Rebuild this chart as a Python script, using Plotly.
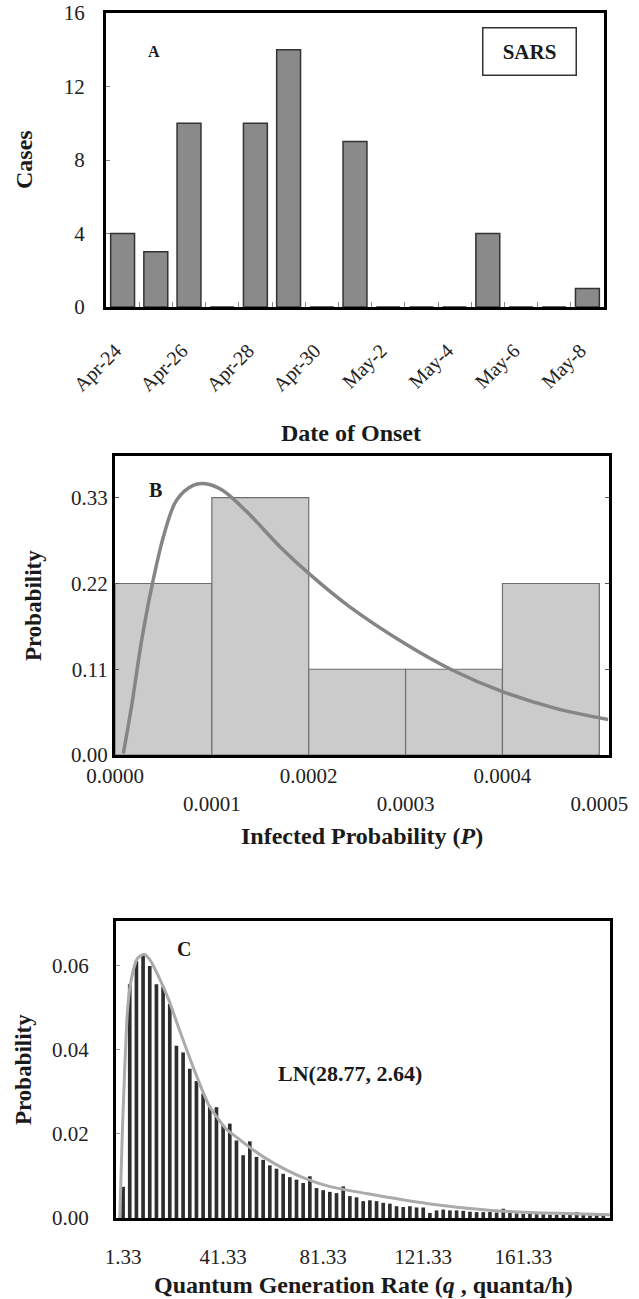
import plotly.graph_objects as go

W, H = 639, 1299
SERIF = "Liberation Serif"

# ---------------- Panel A data ----------------
onset_dates = ["Apr-24", "Apr-25", "Apr-26", "Apr-27", "Apr-28", "Apr-29", "Apr-30",
               "May-1", "May-2", "May-3", "May-4", "May-5", "May-6", "May-7", "May-8"]
onset_cases = [4, 3, 10, 0, 10, 14, 0, 9, 0, 0, 0, 4, 0, 0, 1]
a_yticks = [0, 4, 8, 12, 16]

# ---------------- Panel B data ----------------
p_bin_edges = [0.0, 0.0001, 0.0002, 0.0003, 0.0004, 0.0005]
p_bin_prob = [0.222, 0.333, 0.111, 0.111, 0.222]
p_fit_x = [0.0000086, 0.000017, 0.0000276, 0.0000383, 0.000051, 0.0000637, 0.0000807,
           0.0000935, 0.0001105, 0.000136, 0.00017, 0.0002, 0.000242, 0.0003,
           0.000348, 0.0004, 0.000455, 0.000509]
p_fit_y = [0.002, 0.0625, 0.149, 0.22, 0.287, 0.33, 0.349, 0.351, 0.343, 0.315,
           0.27, 0.235, 0.192, 0.1436, 0.110, 0.082, 0.0604, 0.046]
b_ytick_vals = [0.0, 0.111, 0.222, 0.333]
b_ytick_text = ["0.00", "0.11", "0.22", "0.33"]
b_xtick_vals = [0.0, 0.0001, 0.0002, 0.0003, 0.0004, 0.0005]
b_xtick_text = ["0.0000", "0.0001", "0.0002", "0.0003", "0.0004", "0.0005"]

# ---------------- Panel C data ----------------
q_first = 1.33
q_width = 8.0 / 3.0
q_prob = [0.0074, 0.0555, 0.0610, 0.0624, 0.0598, 0.0555, 0.0549, 0.0508, 0.0409, 0.0393,
          0.0354, 0.0325, 0.0295, 0.0265, 0.0263, 0.0220, 0.0224, 0.0184, 0.0149, 0.0182,
          0.0145, 0.0138, 0.0125, 0.0117, 0.0105, 0.0097, 0.0091, 0.0083, 0.0099, 0.0071,
          0.0066, 0.0062, 0.0059, 0.0075, 0.0052, 0.0049, 0.0040, 0.0042, 0.0040, 0.0036,
          0.0034, 0.0028, 0.0026, 0.0028, 0.0025, 0.0025, 0.0012, 0.0018, 0.0020, 0.0018,
          0.0018, 0.0017, 0.0015, 0.0014, 0.0014, 0.0014, 0.0013, 0.0022, 0.0012, 0.0011,
          0.0010, 0.0010, 0.0009, 0.0009, 0.0008, 0.0008, 0.0008, 0.0007, 0.0014, 0.0007,
          0.0006, 0.0010, 0.0006]
q_fit_x = [0.0, 1.07, 3.07, 4.4, 7.07, 9.73, 12.4, 15.7, 19.7, 23.7, 29.1, 35.7, 42.4, 46.0,
           53.7, 61.9, 72.8, 83.7, 98.6, 123.3, 148.7, 175.0, 196.0]
q_fit_y = [0.0, 0.021, 0.049, 0.056, 0.0616, 0.0626, 0.061, 0.0571, 0.0516, 0.0449, 0.0362,
           0.0267, 0.0212, 0.0195, 0.0160, 0.0129, 0.0097, 0.0075, 0.0058, 0.0034, 0.0018,
           0.0011, 0.0008]
c_xtick_vals = [1.33, 41.33, 81.33, 121.33, 161.33]
c_ytick_vals = [0.0, 0.02, 0.04, 0.06]


def fx(p):
    return p / W


def fy(p):
    return 1 - p / H


q_centers = [q_first + q_width * i for i in range(len(q_prob))]
p_centers = [(p_bin_edges[i] + p_bin_edges[i + 1]) / 2 for i in range(len(p_bin_prob))]
p_widths = [p_bin_edges[i + 1] - p_bin_edges[i] for i in range(len(p_bin_prob))]

fig = go.Figure()

fig.add_trace(go.Bar(x=onset_dates, y=onset_cases, marker=dict(color="#8a8a8a",
                     line=dict(color="#333333", width=1.5)), xaxis="x", yaxis="y",
                     showlegend=False))

fig.add_trace(go.Bar(x=p_centers, y=p_bin_prob, width=p_widths,
                     marker=dict(color="#cbcbcb", line=dict(color="#6e6e6e", width=1.2)),
                     xaxis="x2", yaxis="y2", showlegend=False))
fig.add_trace(go.Scatter(x=p_fit_x, y=p_fit_y, mode="lines", line=dict(color="#858585", width=3.5,
                         shape="spline", smoothing=1.0), xaxis="x2", yaxis="y2", showlegend=False))

fig.add_trace(go.Bar(x=q_centers, y=q_prob, width=q_width * 0.55,
                     marker=dict(color="#2e2e2e", line=dict(width=0)),
                     xaxis="x3", yaxis="y3", showlegend=False))
fig.add_trace(go.Scatter(x=q_fit_x, y=q_fit_y, mode="lines", line=dict(color="#ababab", width=3,
                         shape="spline", smoothing=0.6), xaxis="x3", yaxis="y3", showlegend=False))

tickfont = dict(family=SERIF, size=21, color="#222222")
frame = dict(showline=True, linecolor="black", linewidth=3, mirror=True, showgrid=False,
             zeroline=False, automargin=False)

fig.update_layout(
    width=W, height=H, margin=dict(l=0, r=0, t=0, b=0, autoexpand=False),
    paper_bgcolor="white", plot_bgcolor="white", bargap=0.28, showlegend=False,
    font=dict(family=SERIF, color="#222222"),
    xaxis=dict(domain=[fx(106), fx(604)], anchor="y", type="category",
               range=[-0.5, len(onset_dates) - 0.5], tickmode="array", tickvals=onset_dates,
               ticktext=[d + "\u00a0\u00a0" if i % 2 == 0 else "" for i, d in enumerate(onset_dates)],
               tickson="boundaries", ticks="inside", ticklen=5, tickcolor="#888888",
               tickangle=-45, ticklabelstandoff=14,
               tickfont=dict(family=SERIF, size=20, color="#222222"), **frame),
    yaxis=dict(domain=[fy(307), fy(13)], anchor="x", range=[0, 16], tickmode="array",
               tickvals=a_yticks, ticks="inside", ticklen=4, tickcolor="#888888",
               tickfont=tickfont, ticklabelstandoff=14, **frame),
    xaxis2=dict(domain=[fx(115), fx(609)], anchor="y2", range=[0, 0.00051], tickmode="array",
                tickvals=b_xtick_vals,
                ticktext=[t if i % 2 == 0 else "<br>" + t for i, t in enumerate(b_xtick_text)],
                ticks="", tickangle=0, tickfont=tickfont, **frame),
    yaxis2=dict(domain=[fy(755), fy(456)], anchor="x2", range=[0, 0.387], tickmode="array",
                tickvals=b_ytick_vals, ticktext=b_ytick_text, ticks="inside", ticklen=4,
                tickcolor="#555555", tickfont=tickfont, ticklabelstandoff=0,
                **{**frame, "mirror": "allticks"}),
    xaxis3=dict(domain=[fx(116), fx(610)], anchor="y3", range=[-1.5, 196], tickmode="array",
                tickvals=c_xtick_vals, ticktext=[f"{v:.2f}" for v in c_xtick_vals], ticks="",
                tickfont=tickfont, ticklabelstandoff=18, **frame),
    yaxis3=dict(domain=[fy(1218), fy(921)], anchor="x3", range=[0, 0.0705], tickmode="array",
                tickvals=c_ytick_vals, ticktext=[f"{v:.2f}" for v in c_ytick_vals],
                ticks="inside", ticklen=4, tickcolor="#999999", tickfont=tickfont,
                ticklabelstandoff=20, **frame),
)

def note(text, xp, yp, size=18, angle=0, **kw):
    fig.add_annotation(text=text, x=fx(xp), y=fy(yp), xref="paper", yref="paper",
                       showarrow=False, textangle=angle, xanchor="center", yanchor="middle",
                       font=dict(family=SERIF, size=size, color="#1a1a1a"), **kw)

note("<b>A</b>", 154, 52, size=16)
note("<b>SARS</b>", 529, 52, size=21, bordercolor="#333333", borderwidth=1.5, borderpad=2,
     width=88, height=42, bgcolor="white")
note("<b>B</b>", 155, 490, size=20)
note("<b>C</b>", 184, 949, size=20)
note("<b>LN(28.77, 2.64)</b>", 350, 1073, size=22)

note("<b>Cases</b>", 24, 160, size=24, angle=-90)
note("<b>Date of Onset</b>", 351, 433, size=24)
note("<b>Probability</b>", 33, 606, size=23, angle=-90)
note("<b>Infected Probability (<i>P</i>)</b>", 362, 836, size=24)
note("<b>Probability</b>", 23, 1070, size=23, angle=-90)
note("<b>Quantum Generation Rate (<i>q</i> , quanta/h)</b>", 363, 1285, size=24)

fig.write_html("out.html")
